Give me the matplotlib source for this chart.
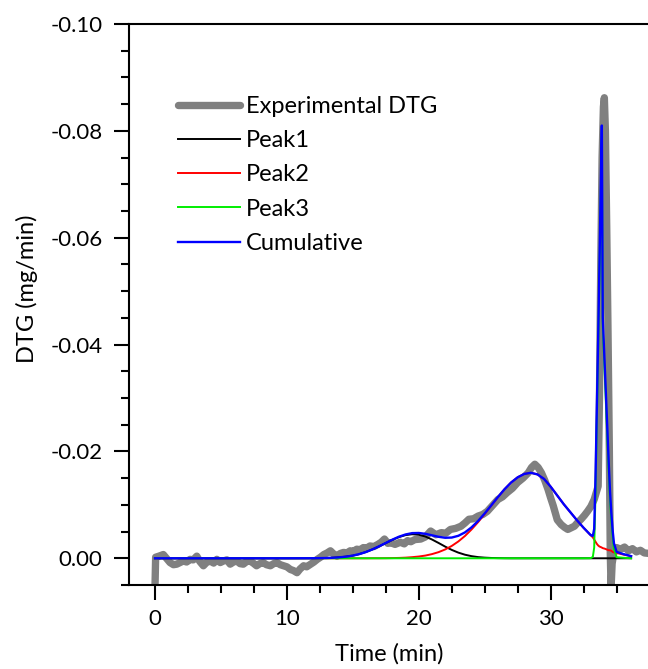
import matplotlib
matplotlib.use("Agg")
import matplotlib.pyplot as plt
import numpy as np
from matplotlib.ticker import MultipleLocator, FuncFormatter

plt.rcParams['font.family'] = ['Lato', 'DejaVu Sans']

# Measured DTG curve (min, mg/min)
exp_time = [0.00, 0.05, 0.3, 0.63, 0.9, 1.14, 1.4, 1.65, 1.9, 2.15, 2.4, 2.66, 2.9,
            3.17, 3.4, 3.67, 3.9, 4.18, 4.45, 4.69, 4.95, 5.2, 5.45, 5.7, 5.95, 6.2,
            6.45, 6.7, 6.95, 7.2, 7.45, 7.7, 7.95, 8.2, 8.45, 8.75, 9.0, 9.25, 9.5,
            9.75, 10.0, 10.27, 10.5, 10.77, 11.0, 11.27, 11.5, 11.8, 12.05, 12.3,
            12.55, 12.8, 13.05, 13.3, 13.55, 13.8, 14.05, 14.3, 14.55, 14.8, 15.05,
            15.3, 15.55, 15.8, 16.05, 16.3, 16.6, 16.9, 17.15, 17.4, 17.65, 17.9,
            18.2, 18.6, 18.9, 19.15, 19.4, 19.7, 20.15, 20.5, 20.9, 21.3, 21.7,
            22.05, 22.4, 22.8, 23.2, 23.5, 23.8, 24.15, 24.5, 24.85, 25.2, 25.6,
            26.0, 26.35, 26.7, 27.1, 27.5, 27.9, 28.3, 28.55, 28.8, 29.05, 29.3,
            29.55, 29.8, 30.0, 30.2, 30.5, 30.8, 31.05, 31.3, 31.55, 31.8, 32.05,
            32.3, 32.55, 32.8, 33.05, 33.3, 33.6, 33.7, 33.8, 33.9, 34.0, 34.07,
            34.15, 34.25, 34.35, 34.45, 34.52, 34.58, 34.66, 34.8, 35.0, 35.3,
            35.6, 35.9, 36.2, 36.5, 36.8, 37.1, 37.5]
exp_dtg = [0.0055, -0.0002, -0.0004, -0.0007, 0.0001, 0.0008, 0.0012, 0.0011, 0.0008,
           0.0005, 0.0007, 0.0002, 0.0003, -0.0004, 0.0006, 0.0014, 0.0008, 0.0005,
           0.0009, 0.0002, 0.0008, 0.0005, 0.0003, 0.0011, 0.0007, 0.0005, 0.0010,
           0.0011, 0.0006, 0.0005, 0.0009, 0.0014, 0.0010, 0.0008, 0.0012, 0.0014,
           0.0010, 0.0008, 0.0012, 0.0014, 0.0016, 0.0021, 0.0023, 0.0027, 0.0020,
           0.0014, 0.0016, 0.0011, 0.0007, 0.0002, -0.0002, -0.0007, -0.0010,
           -0.0014, -0.0008, -0.0004, -0.0009, -0.0011, -0.0010, -0.0014, -0.0013,
           -0.0017, -0.0016, -0.0020, -0.0019, -0.0023, -0.0022, -0.0026, -0.0030,
           -0.0036, -0.0028, -0.0029, -0.0026, -0.0030, -0.0027, -0.0033, -0.0031,
           -0.0035, -0.0036, -0.0040, -0.0051, -0.0044, -0.0048, -0.0047, -0.0054,
           -0.0056, -0.0060, -0.0066, -0.0073, -0.0074, -0.0079, -0.0082, -0.0088,
           -0.0099, -0.0110, -0.0115, -0.0123, -0.0131, -0.0142, -0.0150, -0.0160,
           -0.0170, -0.0176, -0.0170, -0.0160, -0.0146, -0.0129, -0.0113, -0.0098,
           -0.0072, -0.0063, -0.0058, -0.0054, -0.0057, -0.0060, -0.0067, -0.0073,
           -0.0080, -0.0088, -0.0097, -0.0110, -0.0135, -0.0300, -0.0550, -0.0750,
           -0.0845, -0.0862, -0.0800, -0.0620, -0.0420, -0.0200, -0.0010, 0.0055,
           0.0010, -0.0012, -0.0020, -0.0017, -0.0021, -0.0014, -0.0018, -0.0012,
           -0.0015, -0.0010, -0.0009]

# Deconvoluted peaks on a common time grid
peak_time = [0, 2, 4, 6, 8, 10, 12,
             13, 13.5, 14, 14.5, 15, 15.5, 16, 16.5, 17, 17.5, 18, 18.5, 19, 19.5,
             20, 20.5, 21, 21.5, 22, 22.5, 23, 23.5, 24, 24.5, 25, 25.5, 26, 26.5,
             27, 27.5, 28, 28.5, 29, 29.5, 30, 30.5, 31, 31.5, 32, 32.5, 33,
             33.1, 33.2, 33.3, 33.4, 33.5, 33.6, 33.7, 33.8, 33.88, 33.95,
             34.1, 34.2, 34.3, 34.4, 34.5, 34.6, 34.7, 34.8, 35.0, 35.5, 36.1]
peak1 = [0, 0, 0, 0, 0, 0, -0.00001,
         -0.00005, -0.0001, -0.00018, -0.00031, -0.0005, -0.00079, -0.00118, -0.00167,
         -0.00224, -0.00285, -0.00345, -0.00397, -0.00434, -0.0045,
         -0.00441, -0.00407, -0.00352, -0.00287, -0.00219, -0.00157, -0.00106, -0.00067,
         -0.0004, -0.00022, -0.00012, -0.00006, -0.00003, -0.00001,
         0, 0, 0, 0, 0, 0, 0, 0, 0, 0, 0, 0, 0,
         0, 0, 0, 0, 0, 0, 0, 0, 0, 0,
         0, 0, 0, 0, 0, 0, 0, 0, 0, 0, 0]
peak2 = [0, 0, 0, 0, 0, 0, 0,
         0, 0, 0, 0, 0, 0, 0, -0.00001, -0.00001, -0.00002, -0.00004, -0.00007,
         -0.00012, -0.00021,
         -0.00033, -0.00051, -0.00078, -0.00115, -0.00165, -0.00231, -0.00315, -0.00417,
         -0.00539, -0.00677, -0.00828, -0.00986, -0.01144, -0.01291,
         -0.01418, -0.01516, -0.01579, -0.0160, -0.01570, -0.01485, -0.01340, -0.01175,
         -0.01010, -0.00860, -0.00710, -0.00570, -0.00440,
         -0.00415, -0.0039, -0.0035, -0.0031, -0.0027, -0.0024, -0.0022, -0.0021,
         -0.0020, -0.0019,
         -0.0018, -0.0017, -0.0016, -0.0015, -0.0015, -0.0014, -0.0012, -0.0011,
         -0.0010, -0.0007, -0.0004]
peak3 = [0, 0, 0, 0, 0, 0, 0,
         0, 0, 0, 0, 0, 0, 0, 0, 0, 0, 0, 0, 0, 0,
         0, 0, 0, 0, 0, 0, 0, 0, 0, 0, 0, 0, 0, 0,
         0, 0, 0, 0, 0, 0, 0, 0, 0, 0, 0, 0, -0.00002,
         -0.0001, -0.0003, -0.0020, -0.0119, -0.0253, -0.0386, -0.0528, -0.0679,
         -0.0790, -0.0432,
         -0.0342, -0.0283, -0.0224, -0.0165, -0.0110, -0.0071, -0.0040, -0.0017,
         -0.0002, -0.0001, 0]

x_ticks = [0, 10, 20, 30]
y_ticks = [0.00, -0.02, -0.04, -0.06, -0.08, -0.10]

cumulative = np.array(peak1) + np.array(peak2) + np.array(peak3)

fig = plt.figure(figsize=(6.48, 6.69), dpi=100)
ax = fig.add_axes([129 / 648, 84 / 669, 519 / 648, 561 / 669])

ax.plot(exp_time, exp_dtg, color='#808080', lw=5.3, solid_capstyle='round',
        solid_joinstyle='round', label='Experimental DTG')
ax.plot(peak_time, peak1, color='black', lw=1.4, label='Peak1')
ax.plot(peak_time, peak2, color='#ff0000', lw=1.4, label='Peak2')
ax.plot(peak_time, peak3, color='#00ee00', lw=1.4, label='Peak3')
ax.plot(peak_time, cumulative, color='#0000ff', lw=1.7, label='Cumulative')

ax.set_xlim(-1.97, 37.38)
ax.set_ylim(0.005, -0.10)

ax.set_xticks(x_ticks)
ax.set_yticks(y_ticks)
ax.xaxis.set_minor_locator(MultipleLocator(2.5))
ax.yaxis.set_minor_locator(MultipleLocator(0.005))
ax.yaxis.set_major_formatter(FuncFormatter(lambda v, p: f"{round(v, 2):.2f}".replace("-0.00", "0.00")))

ax.spines['right'].set_visible(False)
for s in ('left', 'bottom', 'top'):
    ax.spines[s].set_linewidth(1.5)

ax.tick_params(which='major', direction='out', length=11, width=1.5, labelsize=16,
               colors='black', top=False, right=False)
ax.tick_params(which='minor', direction='out', length=6, width=1.5, top=False, right=False)
ax.tick_params(axis='x', which='major', pad=6.5)
ax.tick_params(axis='y', which='major', pad=8)

ax.set_xlabel('Time (min)', fontsize=17)
ax.set_ylabel('DTG (mg/min)', fontsize=17)
ax.xaxis.set_label_coords((389 - 129) / 519, (585 - 643) / 561)
ax.yaxis.set_label_coords((38 - 129) / 519, (585 - 289) / 561)

ax.legend(loc='upper left', bbox_to_anchor=(178 / 648, (669 - 96) / 669),
          bbox_transform=fig.transFigure, frameon=False, fontsize=17,
          handlelength=2.63, handletextpad=0.25, labelspacing=0.56,
          borderpad=0, borderaxespad=0)

fig.savefig('out.png', dpi=100)
